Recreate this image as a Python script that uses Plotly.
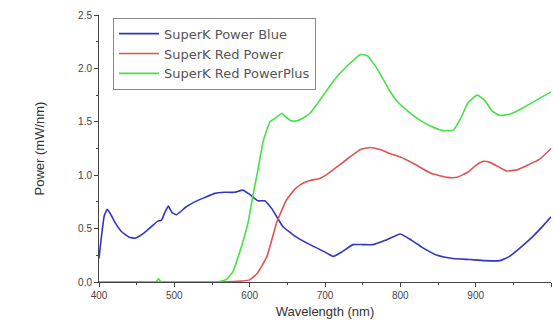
import plotly.graph_objects as go

# Wavelength (nm) / Power (mW/nm)
blue_wl = [400, 402, 407, 411, 415, 421, 430, 440, 448, 460, 470, 478, 483, 488, 492, 497, 503, 515, 527,
           540, 554, 567, 580, 591, 600, 611, 620, 630, 644, 660, 680, 700, 711, 722, 737, 750, 764, 780,
           800, 815, 830, 849, 870, 893, 912, 932, 945, 959, 975, 990, 1000]
blue_pw = [0.22, 0.35, 0.62, 0.68, 0.64, 0.56, 0.47, 0.42, 0.41, 0.46, 0.52, 0.57, 0.58, 0.66, 0.71, 0.65,
           0.63, 0.70, 0.75, 0.79, 0.83, 0.84, 0.84, 0.86, 0.82, 0.76, 0.76, 0.68, 0.52, 0.43, 0.35, 0.28,
           0.24, 0.28, 0.35, 0.35, 0.35, 0.39, 0.45, 0.39, 0.32, 0.25, 0.22, 0.21, 0.20, 0.20, 0.24, 0.32,
           0.42, 0.53, 0.61]

red_wl = [400, 560, 590, 600, 610, 623, 636, 649, 660, 667, 680, 693, 705, 720, 735, 747, 760, 773, 787,
          800, 820, 840, 862, 875, 890, 900, 910, 919, 930, 941, 955, 968, 985, 1000]
red_pw = [0.0, 0.0, 0.01, 0.02, 0.08, 0.24, 0.56, 0.77, 0.87, 0.91, 0.95, 0.97, 1.02, 1.10, 1.18, 1.24,
          1.26, 1.24, 1.20, 1.17, 1.10, 1.02, 0.98, 0.98, 1.03, 1.09, 1.13, 1.12, 1.08, 1.04, 1.05, 1.09,
          1.15, 1.25]

green_wl = [400, 476, 479, 482, 540, 560, 570, 578, 585, 592, 598, 604, 611, 618, 627, 635, 643, 647, 655,
            663, 672, 680, 693, 707, 718, 729, 740, 747, 756, 765, 773, 785, 796, 810, 825, 840, 855, 870,
            880, 890, 902, 912, 922, 932, 945, 960, 975, 990, 1000]
green_pw = [0.0, 0.005, 0.03, 0.005, 0.0, 0.005, 0.03, 0.10, 0.24, 0.40, 0.56, 0.80, 1.05, 1.32, 1.50,
            1.54, 1.58, 1.55, 1.51, 1.51, 1.54, 1.58, 1.70, 1.84, 1.94, 2.02, 2.09, 2.13, 2.12, 2.04, 1.95,
            1.80, 1.69, 1.60, 1.52, 1.46, 1.42, 1.42, 1.53, 1.68, 1.75, 1.70, 1.60, 1.56, 1.57, 1.62, 1.68,
            1.74, 1.78]

names = ["SuperK Power Blue", "SuperK Red Power", "SuperK Red PowerPlus"]
colors = ["#3434c8", "#e05454", "#48e048"]

fig = go.Figure()
for wl, pw, nm, c in [(blue_wl, blue_pw, names[0], colors[0]),
                      (red_wl, red_pw, names[1], colors[1]),
                      (green_wl, green_pw, names[2], colors[2])]:
    fig.add_trace(go.Scatter(x=wl, y=pw, mode="lines", name=nm,
                             line=dict(color=c, width=1.6, shape="spline", smoothing=0.4)))

axis_common = dict(showline=True, linecolor="#444", linewidth=1, ticks="outside", ticklen=4,
                   tickcolor="#444", showgrid=False, zeroline=False,
                   tickfont=dict(family="Liberation Sans, Arial", size=10, color="#444"))

fig.update_layout(
    width=553, height=323,
    margin=dict(l=99, r=2, t=15, b=41),
    paper_bgcolor="white", plot_bgcolor="white",
    font=dict(family="Liberation Sans, Arial", color="#333"),
    xaxis=dict(range=[400, 1000], dtick=100, tick0=400,
               minor=dict(ticks="outside", dtick=50, ticklen=2, tickcolor="#444"),
               title=dict(text="Wavelength (nm)", font=dict(size=13, color="#333"), standoff=6),
               **axis_common),
    yaxis=dict(range=[0, 2.5], dtick=0.5, tickformat=".1f",
               minor=dict(ticks="outside", dtick=0.25, ticklen=2, tickcolor="#444"),
               title=dict(text="Power (mW/nm)", font=dict(size=13, color="#333"), standoff=30),
               **axis_common),
    legend=dict(x=0.031, y=0.99, xanchor="left", yanchor="top",
                bordercolor="#888", borderwidth=1, bgcolor="white",
                font=dict(family="DejaVu Sans", size=13, color="#555"),
                tracegroupgap=0, itemwidth=40),
    showlegend=True,
)

fig.write_html("out.html")
